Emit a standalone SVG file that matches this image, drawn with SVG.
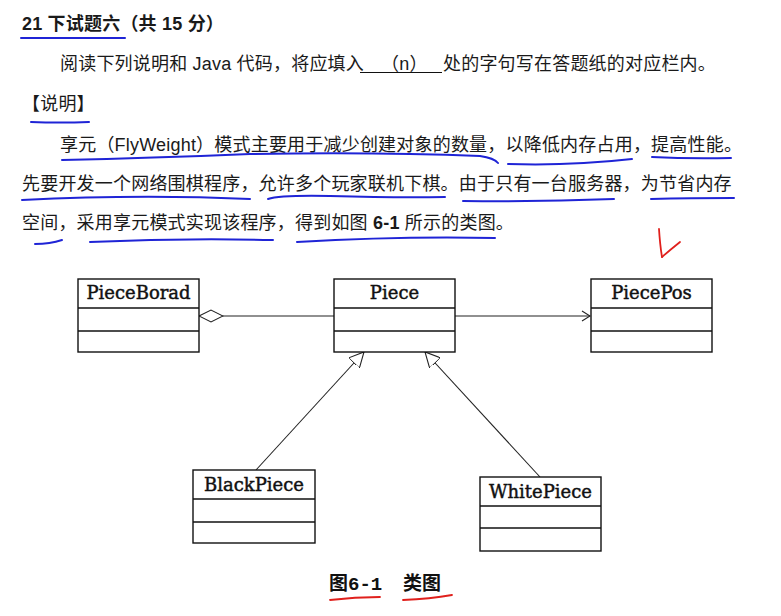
<svg xmlns="http://www.w3.org/2000/svg" width="781" height="616" viewBox="0 0 781 616">
<style>
  .t { font-family: "Liberation Sans", "Noto Sans CJK SC", sans-serif; font-size: 18px; fill: #1a1a1a; letter-spacing: 0.2px; }
  .b { font-weight: bold; }
  .cls { font-family: "DejaVu Serif", "Liberation Serif", serif; font-size: 18px; fill: #111; stroke: #111; stroke-width: 0.45; }
  .cap { font-family: "Liberation Mono", "Noto Sans CJK SC", monospace; font-size: 19px; font-weight: bold; fill: #111; }
  .box { fill: #fff; stroke: #111; stroke-width: 1.4; }
  .sep { stroke: #111; stroke-width: 1.3; }
  .conn { stroke: #222; stroke-width: 1.1; fill: none; }
  .blue { stroke: #1f24d6; stroke-width: 2; fill: none; stroke-linecap: round; }
  .red { stroke: #e0201c; stroke-width: 1.8; fill: none; stroke-linecap: round; }
</style>
<defs>
  <marker id="tri" viewBox="0 0 15 15" refX="15" refY="7.5" markerWidth="15" markerHeight="15" markerUnits="userSpaceOnUse" orient="auto">
    <path d="M0,0 L15,7.5 L0,15 z" fill="#fff" stroke="#222" stroke-width="1.1"/>
  </marker>
  <marker id="dia" viewBox="-1 -1 26 14" refX="0" refY="6" markerWidth="26" markerHeight="14" markerUnits="userSpaceOnUse" orient="auto">
    <path d="M0,6 L12,0 L24,6 L12,12 z" fill="#fff" stroke="#222" stroke-width="1.1"/>
  </marker>
  <marker id="open" viewBox="0 0 10 12" refX="9" refY="6" markerWidth="10" markerHeight="12" markerUnits="userSpaceOnUse" orient="auto">
    <path d="M1,1 L9,6 L1,11" fill="none" stroke="#222" stroke-width="1.1"/>
  </marker>
</defs>
<rect width="781" height="616" fill="#fff"/>

<!-- text -->
<text class="t b" x="22" y="30">21 下试题六（共 15 分）</text>
<text class="t" x="60" y="70">阅读下列说明和 Java 代码，将应填入</text>
<line x1="360" y1="72.5" x2="442" y2="72.5" stroke="#111" stroke-width="1.2"/>
<text class="t" x="381" y="70">（n）</text>
<text class="t" x="443" y="70">处的字句写在答题纸的对应栏内。</text>
<text class="t" x="22" y="110">【说明】</text>
<text class="t" x="60" y="151">享元（FlyWeight）模式主要用于减少创建对象的数量，以降低内存占用，提高性能。</text>
<text class="t" x="22" y="190">先要开发一个网络围棋程序，允许多个玩家联机下棋。由于只有一台服务器，为节省内存</text>
<text class="t" x="22" y="229">空间，采用享元模式实现该程序，得到如图 <tspan class="b">6-1</tspan> 所示的类图。</text>

<!-- blue annotations -->
<g id="annotations">
  <path class="blue" d="M21,38 L125,38"/>
  <path class="blue" d="M31,122 Q60,123 89,122"/>
  <path class="blue" d="M62,160 Q150,158 250,154 Q380,152 480,156 Q494,158 498,163"/>
  <path class="blue" d="M508,164 Q570,166 632,159"/>
  <path class="blue" d="M652,157 Q690,159 731,158"/>
  <path class="blue" d="M22,200 Q140,194 250,199"/>
  <path class="blue" d="M268,199 Q280,195 330,196 Q400,198 445,197"/>
  <path class="blue" d="M463,201 Q540,202 614,199"/>
  <path class="blue" d="M651,199 Q690,198 734,198"/>
  <path class="blue" d="M35,244 Q50,244 62,240"/>
  <path class="blue" d="M90,242 Q180,238 273,240"/>
  <path class="blue" d="M297,242 Q400,236 495,238"/>
</g>
<!-- red annotations -->
<g id="red-marks">
  <path class="red" d="M659,229 Q660,245 662,257"/>
  <path class="red" d="M680,242 Q670,250 662,257"/>
  <path class="red" d="M330,600 Q355,597 380,597"/>
  <path class="red" d="M403,600 Q430,599 452,595"/>
</g>

<!-- connectors -->
<g id="connectors">
  <line class="conn" x1="199" y1="316" x2="334" y2="316" marker-start="url(#dia)"/>
  <line class="conn" x1="455" y1="316" x2="590" y2="316" marker-end="url(#open)"/>
  <line class="conn" x1="256" y1="470" x2="364" y2="352" marker-end="url(#tri)"/>
  <line class="conn" x1="540" y1="477" x2="425" y2="352" marker-end="url(#tri)"/>
</g>

<!-- nodes -->
<g id="PieceBorad">
  <rect class="box" x="78" y="279" width="121" height="73"/>
  <line class="sep" x1="78" y1="308" x2="199" y2="308"/>
  <line class="sep" x1="78" y1="331" x2="199" y2="331"/>
  <text class="cls" x="138.5" y="299" text-anchor="middle">PieceBorad</text>
</g>
<g id="Piece">
  <rect class="box" x="334" y="279" width="121" height="73"/>
  <line class="sep" x1="334" y1="308" x2="455" y2="308"/>
  <line class="sep" x1="334" y1="331" x2="455" y2="331"/>
  <text class="cls" x="394.5" y="299" text-anchor="middle">Piece</text>
</g>
<g id="PiecePos">
  <rect class="box" x="591" y="279" width="121" height="73"/>
  <line class="sep" x1="591" y1="308" x2="712" y2="308"/>
  <line class="sep" x1="591" y1="331" x2="712" y2="331"/>
  <text class="cls" x="651.5" y="299" text-anchor="middle">PiecePos</text>
</g>
<g id="BlackPiece">
  <rect class="box" x="193" y="470" width="122" height="73"/>
  <line class="sep" x1="193" y1="499" x2="315" y2="499"/>
  <line class="sep" x1="193" y1="522" x2="315" y2="522"/>
  <text class="cls" x="254" y="491" text-anchor="middle">BlackPiece</text>
</g>
<g id="WhitePiece">
  <rect class="box" x="480" y="477" width="121" height="74"/>
  <line class="sep" x1="480" y1="506" x2="601" y2="506"/>
  <line class="sep" x1="480" y1="528" x2="601" y2="528"/>
  <text class="cls" x="540.5" y="498" text-anchor="middle">WhitePiece</text>
</g>

<!-- caption -->
<text class="cap" x="329" y="590">图6-1</text>
<text class="cap" x="403" y="590">类图</text>
</svg>
